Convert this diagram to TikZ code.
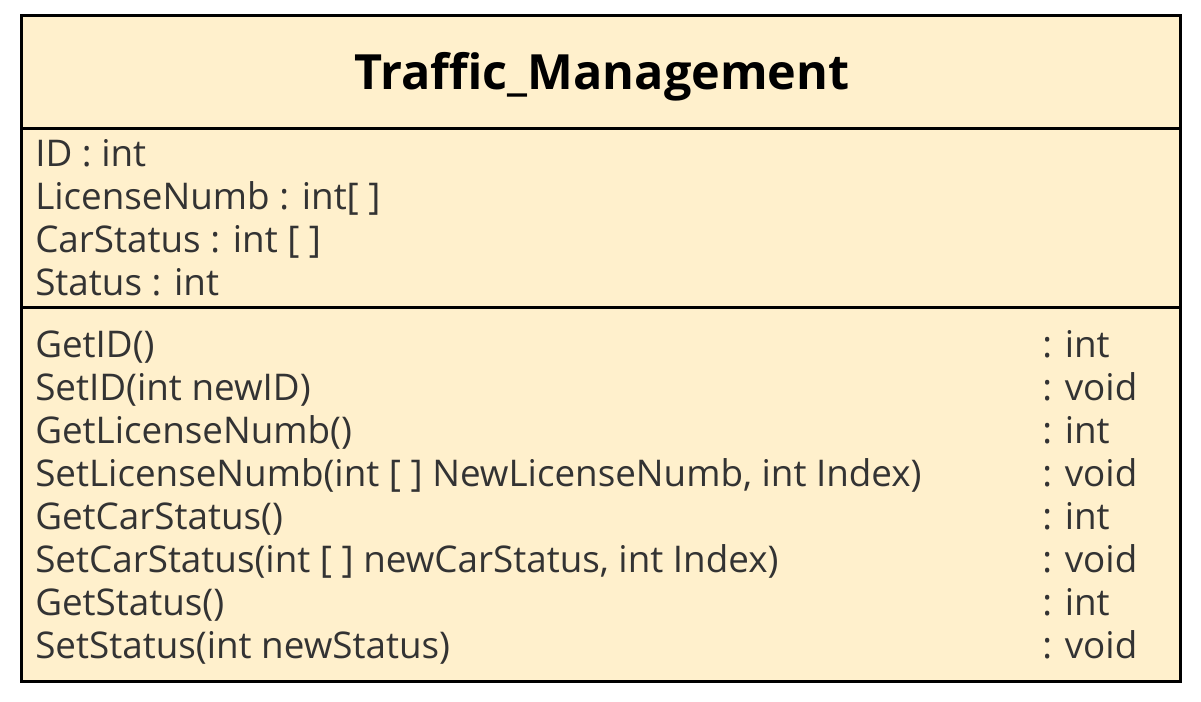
\documentclass[tikz,border=0pt]{standalone}
\usepackage{fontspec}
\setmainfont{Open Sans}
\definecolor{classfill}{HTML}{FFF0CC}
\definecolor{txt}{HTML}{333333}
\begin{document}
\begin{tikzpicture}[x=0.75pt,y=-0.75pt,
  member/.style={anchor=base west,inner sep=0pt,text=txt,font=\fontsize{27.6}{32}\selectfont},
  title/.style={anchor=base,inner sep=0pt,text=black,font=\bfseries\fontsize{36.4}{42}\selectfont}]
\useasboundingbox (0,0) rectangle (1201,701);
% class box with its three compartments
\draw[line width=2.25pt,fill=classfill] (21.5,15.5) rectangle (1180.5,681.5);
\draw[line width=2.25pt] (21.5,128) -- (1180.5,128);
\draw[line width=2.25pt] (21.5,307) -- (1180.5,307);
\node[title] (cls) at (602,89) {Traffic\_Management};
% attributes
\node[member] (a1) at (35,166) {ID : int};
\node[member] (a2) at (35,209) {LicenseNumb : int[ ]};
\node[member] (a3) at (35,252) {CarStatus : int [ ]};
\node[member] (a4) at (35,295) {Status : int};
% operations
\foreach \n/\t/\r [count=\i from 0] in {
  m1/GetID()/int,
  m2/SetID(int newID)/void,
  m3/GetLicenseNumb()/int,
  m4/{SetLicenseNumb(int [ ] NewLicenseNumb, int Index)}/void,
  m5/GetCarStatus()/int,
  m6/{SetCarStatus(int [ ] newCarStatus, int Index)}/void,
  m7/GetStatus()/int,
  m8/SetStatus(int newStatus)/void}{
  \node[member] (\n) at (35,357+43*\i) {\t};
  \node[member] (\n r) at (1042,357+43*\i) {: \r};
}
\end{tikzpicture}
\end{document}
